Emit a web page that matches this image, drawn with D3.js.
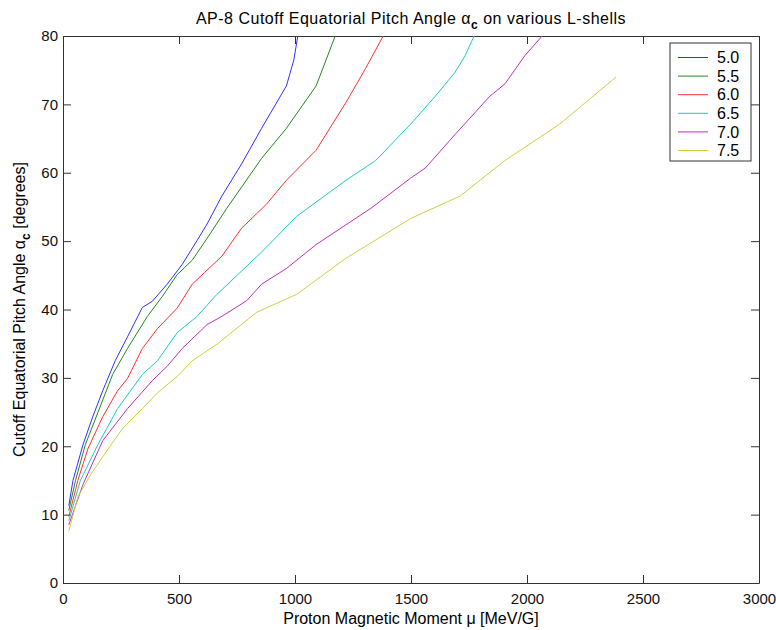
<!DOCTYPE html>
<html>
<head>
<meta charset="utf-8">
<script src="https://cdn.jsdelivr.net/npm/d3@7"></script>
<style>
  body { margin: 0; background: #fff; }
  svg { font-family: "Liberation Sans", Arial, sans-serif; }
  .axis path, .axis line { stroke: #333; }
  .axis text { font-size: 15px; fill: #111; }
</style>
</head>
<body>
<svg width="776" height="630"></svg>
<script>
// L-shell labels and colours (old MATLAB default line order)
const shells = ['5.0', '5.5', '6.0', '6.5', '7.0', '7.5'];
const colors = ['#3030ff', '#1f8a1f', '#ff3030', '#20c8c8', '#c030c0', '#d0d040'];

// mu [MeV/G] and cutoff pitch angle [deg] per shell
const mu50 = [25, 43, 86, 128, 171, 225, 278, 342, 385, 449, 514, 578, 621, 685, 770, 856, 963, 995, 1012];
const al50 = [11.3, 15, 20.2, 24.3, 28.1, 32.5, 36, 40.3, 41.2, 43.7, 46.6, 50.1, 52.5, 56.6, 61.3, 66.5, 72.7, 76.5, 80];
const mu55 = [25, 54, 96, 150, 214, 278, 364, 428, 492, 557, 621, 706, 856, 963, 1091, 1134, 1173];
const al55 = [10.6, 15, 20.2, 24.9, 30.5, 34.3, 39, 41.9, 45.1, 47.2, 50.4, 54.8, 62.1, 66.5, 72.7, 76.5, 80];
const mu60 = [25, 64, 107, 171, 235, 278, 342, 407, 492, 557, 610, 685, 770, 877, 963, 1091, 1220, 1305, 1380];
const al60 = [9.7, 15, 19.6, 24.3, 28.1, 29.9, 34.3, 37.2, 40.2, 43.7, 45.4, 47.8, 51.9, 55.4, 58.9, 63.3, 70.3, 75.3, 80];
const mu65 = [25, 75, 150, 235, 342, 407, 492, 578, 663, 856, 1006, 1220, 1348, 1498, 1605, 1690, 1733, 1772];
const al65 = [9.1, 15, 20.2, 25.5, 30.5, 32.5, 36.6, 39, 42.2, 48.4, 53.6, 58.9, 61.8, 67.1, 71.2, 74.7, 77.1, 80];
const mu70 = [25, 86, 171, 278, 385, 449, 514, 621, 685, 792, 856, 963, 1091, 1327, 1498, 1562, 1690, 1840, 1905, 1990, 2065];
const al70 = [8.5, 14.4, 20.8, 25.5, 29.6, 31.7, 34.3, 37.8, 39, 41.3, 43.7, 46, 49.5, 54.8, 59.2, 60.7, 65.6, 71.2, 73, 77.1, 80];
const mu75 = [25, 64, 118, 182, 257, 342, 407, 492, 557, 663, 835, 1006, 1220, 1498, 1712, 1905, 2140, 2384];
const al75 = [7.6, 12.6, 15.8, 19, 22.6, 25.5, 27.8, 30.2, 32.5, 34.9, 39.6, 42.2, 47.5, 53.3, 56.6, 61.8, 67.1, 74];

const xTicks = [0, 500, 1000, 1500, 2000, 2500, 3000];
const yTicks = [0, 10, 20, 30, 40, 50, 60, 70, 80];

const series = [
  [mu50, al50], [mu55, al55], [mu60, al60],
  [mu65, al65], [mu70, al70], [mu75, al75]
].map(([m, a], i) => ({
  name: shells[i],
  color: colors[i],
  pts: m.map((v, j) => [v, a[j]])
}));

const svg = d3.select('svg'),
  margin = { top: 36, right: 17, bottom: 47, left: 63 },
  width = +svg.attr('width') - margin.left - margin.right,
  height = +svg.attr('height') - margin.top - margin.bottom;

const x = d3.scaleLinear().domain([0, 3000]).range([0, width]);
const y = d3.scaleLinear().domain([0, 80]).range([height, 0]);

const g = svg.append('g')
  .attr('transform', 'translate(' + margin.left + ',' + margin.top + ')');

// clip so the curves stop at the top of the box
g.append('clipPath').attr('id', 'plot')
  .append('rect').attr('width', width).attr('height', height);

// axes, MATLAB style: inward ticks on all four sides
const fmt = d3.format('d');
g.append('g').attr('class', 'axis')
  .attr('transform', 'translate(0,' + height + ')')
  .call(d3.axisBottom(x).tickValues(xTicks).tickFormat(fmt).tickSize(-8).tickPadding(10).tickSizeOuter(0));
g.append('g').attr('class', 'axis')
  .call(d3.axisTop(x).tickValues(xTicks).tickSize(-8).tickFormat('').tickSizeOuter(0));
g.append('g').attr('class', 'axis')
  .call(d3.axisLeft(y).tickValues(yTicks).tickFormat(fmt).tickSize(-8).tickPadding(5).tickSizeOuter(0));
g.append('g').attr('class', 'axis')
  .attr('transform', 'translate(' + width + ',0)')
  .call(d3.axisRight(y).tickValues(yTicks).tickSize(-8).tickFormat('').tickSizeOuter(0));

// the curves
const line = d3.line().x(d => x(d[0])).y(d => y(d[1]));
g.append('g').attr('clip-path', 'url(#plot)')
  .selectAll('path')
  .data(series)
  .enter().append('path')
  .attr('fill', 'none')
  .attr('stroke', d => d.color)
  .attr('stroke-width', 1)
  .attr('d', d => line(d.pts));

// legend box
const leg = g.append('g').attr('transform', 'translate(' + (width - 89) + ',7)');
leg.append('rect')
  .attr('width', 81).attr('height', 118)
  .attr('fill', '#fff').attr('stroke', '#333');
const row = leg.selectAll('g.row')
  .data(series)
  .enter().append('g')
  .attr('transform', (d, i) => 'translate(0,' + (14.5 + i * 18.6) + ')');
row.append('line')
  .attr('x1', 8).attr('x2', 38)
  .attr('stroke', d => d.color);
row.append('text')
  .attr('x', 47).attr('dy', '0.35em')
  .style('font-size', '16px')
  .text(d => d.name);

// title
const title = svg.append('text')
  .attr('x', margin.left + width / 2).attr('y', 24)
  .attr('text-anchor', 'middle')
  .style('font-size', '16px')
  .style('letter-spacing', '0.5px');
title.append('tspan').text('AP-8 Cutoff Equatorial Pitch Angle α');
title.append('tspan').attr('dy', 5).style('font-size', '12px').style('font-weight', 'bold').text('c');
title.append('tspan').attr('dy', -5).text(' on various L-shells');

// x label
svg.append('text')
  .attr('x', margin.left + width / 2).attr('y', 624)
  .attr('text-anchor', 'middle')
  .style('font-size', '16px')
  .text('Proton Magnetic Moment μ [MeV/G]');

// y label
const ylab = svg.append('text')
  .attr('transform', 'translate(25,' + (margin.top + height / 2) + ') rotate(-90)')
  .attr('text-anchor', 'middle')
  .style('font-size', '16px');
ylab.append('tspan').text('Cutoff Equatorial Pitch Angle α');
ylab.append('tspan').attr('dy', 5).style('font-size', '12px').style('font-weight', 'bold').text('c');
ylab.append('tspan').attr('dy', -5).text(' [degrees]');
</script>
</body>
</html>
